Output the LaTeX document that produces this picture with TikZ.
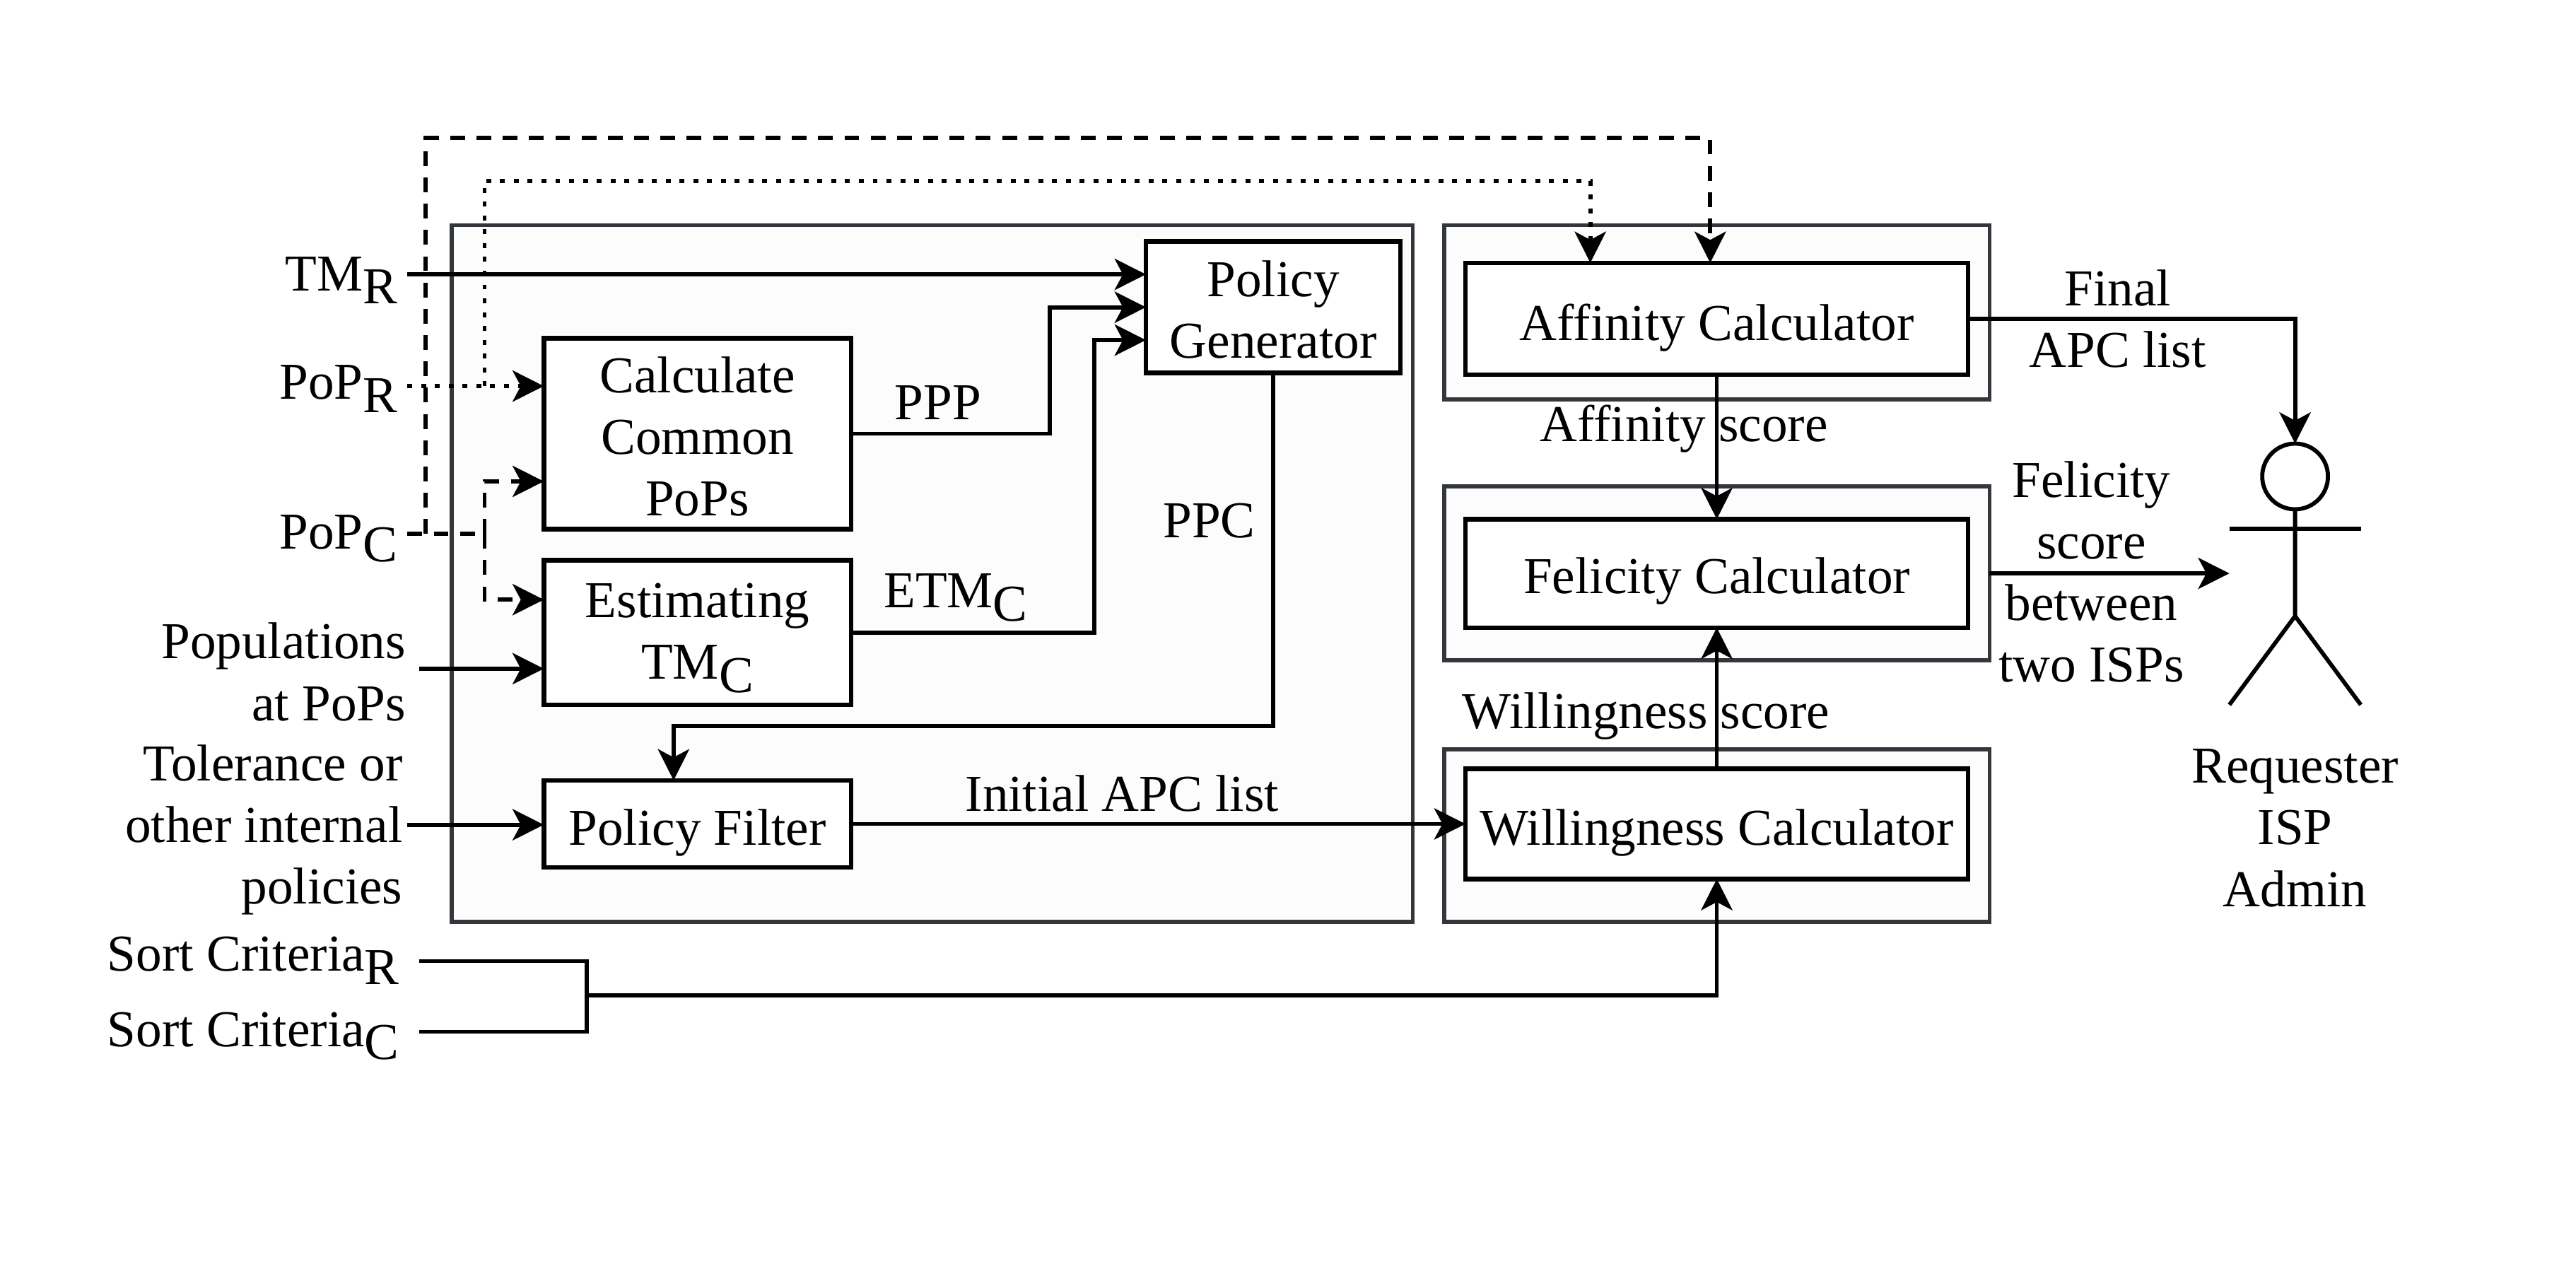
\documentclass[tikz,border=0pt]{standalone}
\usepackage{fontspec}
\setmainfont{Liberation Serif}
\usetikzlibrary{arrows.meta,calc}
\newcommand{\lowsub}[1]{\raisebox{-8pt}{#1}}
\newcommand{\pushdown}[1]{\rule{0pt}{#1}}
\definecolor{outerfill}{HTML}{FCFCFC}
\definecolor{outeredge}{HTML}{33363B}
\tikzset{
  x=1pt,y=-1pt,
  txt/.style={font=\fontsize{31.5}{37.5}\selectfont,inner sep=0pt,outer sep=0pt,align=center},
  rtxt/.style={txt,align=right},
  outerbox/.style={draw=outeredge,fill=outerfill,line width=2.4pt,anchor=north west,inner sep=0pt,outer sep=0pt},
  innerbox/.style={draw=black,fill=white,line width=2.8pt,inner sep=0pt,outer sep=0pt,font=\fontsize{31.5}{37.5}\selectfont,align=center},
  flow/.style={line width=2.5pt,-{Stealth[length=19pt,width=19pt,inset=5pt]}},
  plain/.style={line width=2.5pt},
  flowdash/.style={flow,dash pattern=on 9pt off 7pt},
  plaindash/.style={plain,dash pattern=on 9pt off 7pt},
  flowdot/.style={flow,dash pattern=on 3pt off 5.4pt},
}
\begin{document}
\begin{tikzpicture}
\useasboundingbox (0,0) rectangle (1568,769);
% outer panels
\node[outerbox,minimum width=585pt,minimum height=424pt] (panelL) at (275,137) {};
\node[outerbox,minimum width=332pt,minimum height=106pt] (panelA) at (879,137) {};
\node[outerbox,minimum width=332pt,minimum height=106pt] (panelF) at (879,296) {};
\node[outerbox,minimum width=332pt,minimum height=105pt] (panelW) at (879,456) {};
% free ends
\coordinate (sTM) at (248,167);
\coordinate (sPR) at (248,235);
\coordinate (sPC) at (248,325);
\coordinate (sPop) at (255,407);
\coordinate (sTol) at (248,502);
\coordinate (sSR) at (255,585);
\coordinate (sSC) at (255,628);
\coordinate (jSort) at (357,606);
\coordinate (jDash) at (295,325);
\coordinate (tFel) at (1357,349);
% inner boxes
\node[innerbox,minimum width=155pt,minimum height=80pt] (gen) at (775,187) {\pushdown{24.5pt}Policy\\Generator};
\node[innerbox,minimum width=187pt,minimum height=116pt] (common) at (424.5,264) {\pushdown{25.5pt}Calculate\\Common\\PoPs};
\node[innerbox,minimum width=187pt,minimum height=88pt] (est) at (424.5,385) {\pushdown{27.5pt}Estimating\\TM\lowsub{C}};
\node[innerbox,minimum width=187pt,minimum height=53pt] (filter) at (424.5,501.5) {\pushdown{33pt}Policy Filter};
\node[innerbox,minimum width=306pt,minimum height=68pt] (aff) at (1045,194) {\pushdown{33pt}Affinity Calculator};
\node[innerbox,minimum width=306pt,minimum height=66pt] (fel) at (1045,349) {\pushdown{31pt}Felicity Calculator};
\node[innerbox,minimum width=306pt,minimum height=67pt] (wil) at (1045,501.5) {\pushdown{33pt}Willingness Calculator};
% stick figure
\node[draw=black,line width=2.5pt,circle,minimum size=40pt,inner sep=0pt,outer sep=0pt,fill=white] (head) at (1397,290) {};
\coordinate (hip) at (1397,375);
\coordinate (armL) at (1357,322);
\coordinate (armR) at (1437,322);
\coordinate (legL) at (1357,429);
\coordinate (legR) at (1437,429);
\draw[plain] (head.south) -- (hip) -- (legL);
\draw[plain] (hip) -- (legR);
\draw[plain] (armL) -- (armR);
% connectors
\draw[flow] (sTM) -- (gen.west |- sTM);
\draw[flowdot] (sPR) -- (common.west |- sPR);
\draw[flowdot] (295,235) |- (968,110) -- (968,160);
\draw[plaindash] (sPC) -- (jDash);
\draw[flowdash] (259,325) |- (1041,84) -- (1041,160);
\draw[flowdash] (jDash) |- (common.west |- 0,293);
\draw[flowdash] (jDash) |- (est.west |- 0,365);
\draw[flow] (sPop) -- (est.west |- sPop);
\draw[flow] (sTol) -- (filter.west |- sTol);
\draw[flow] (common.east |- 0,264) -| (639,187) -- (gen.west |- 0,187);
\draw[flow] (est.east) -| (666,207) -- (gen.west |- 0,207);
\draw[flow] (gen.south) -- (775,442) -| (410,475);
\draw[flow] (filter.east) -- (wil.west);
\draw[flow] (aff.south) -- (fel.north);
\draw[flow] (wil.north) -- (fel.south);
\draw[plain] (sSR) -| (jSort |- sSC) -- (sSC);
\draw[flow] (jSort) -| (wil.south);
\draw[flow] (aff.east) -| (head.north);
\draw[flow] (panelF.east |- tFel) -- (tFel);
% labels
\node[txt,anchor=base east] (lTM) at (242,177) {TM\lowsub{R}};
\node[txt,anchor=base east] (lPR) at (242,243) {PoP\lowsub{R}};
\node[txt,anchor=base east] (lPC) at (242,334) {PoP\lowsub{C}};
\node[rtxt,anchor=east] (lPop) at (247,409) {Populations\\at PoPs};
\node[rtxt,anchor=east] (lTol) at (245,505) {Tolerance or\\other internal\\policies};
\node[txt,anchor=base east] (lSR) at (243,591) {Sort Criteria\lowsub{R}};
\node[txt,anchor=base east] (lSC) at (243,637) {Sort Criteria\lowsub{C}};
\node[txt] (lPPP) at (571,245) {PPP};
\node[txt] (lPPC) at (736,317) {PPC};
\node[txt,anchor=base west] (lETM) at (538,370) {ETM\lowsub{C}};
\node[txt] (lInit) at (683,483) {Initial APC list};
\node[txt] (lFinal) at (1289,194) {Final\\APC list};
\node[txt] (lAff) at (1025,261) {Affinity score};
\node[txt] (lWil) at (1002,436) {Willingness score};
\node[txt] (lFel) at (1273,348) {Felicity\\score\\between\\two ISPs};
\node[txt] (lReq) at (1397,504) {Requester\\ISP\\Admin};
\end{tikzpicture}
\end{document}
